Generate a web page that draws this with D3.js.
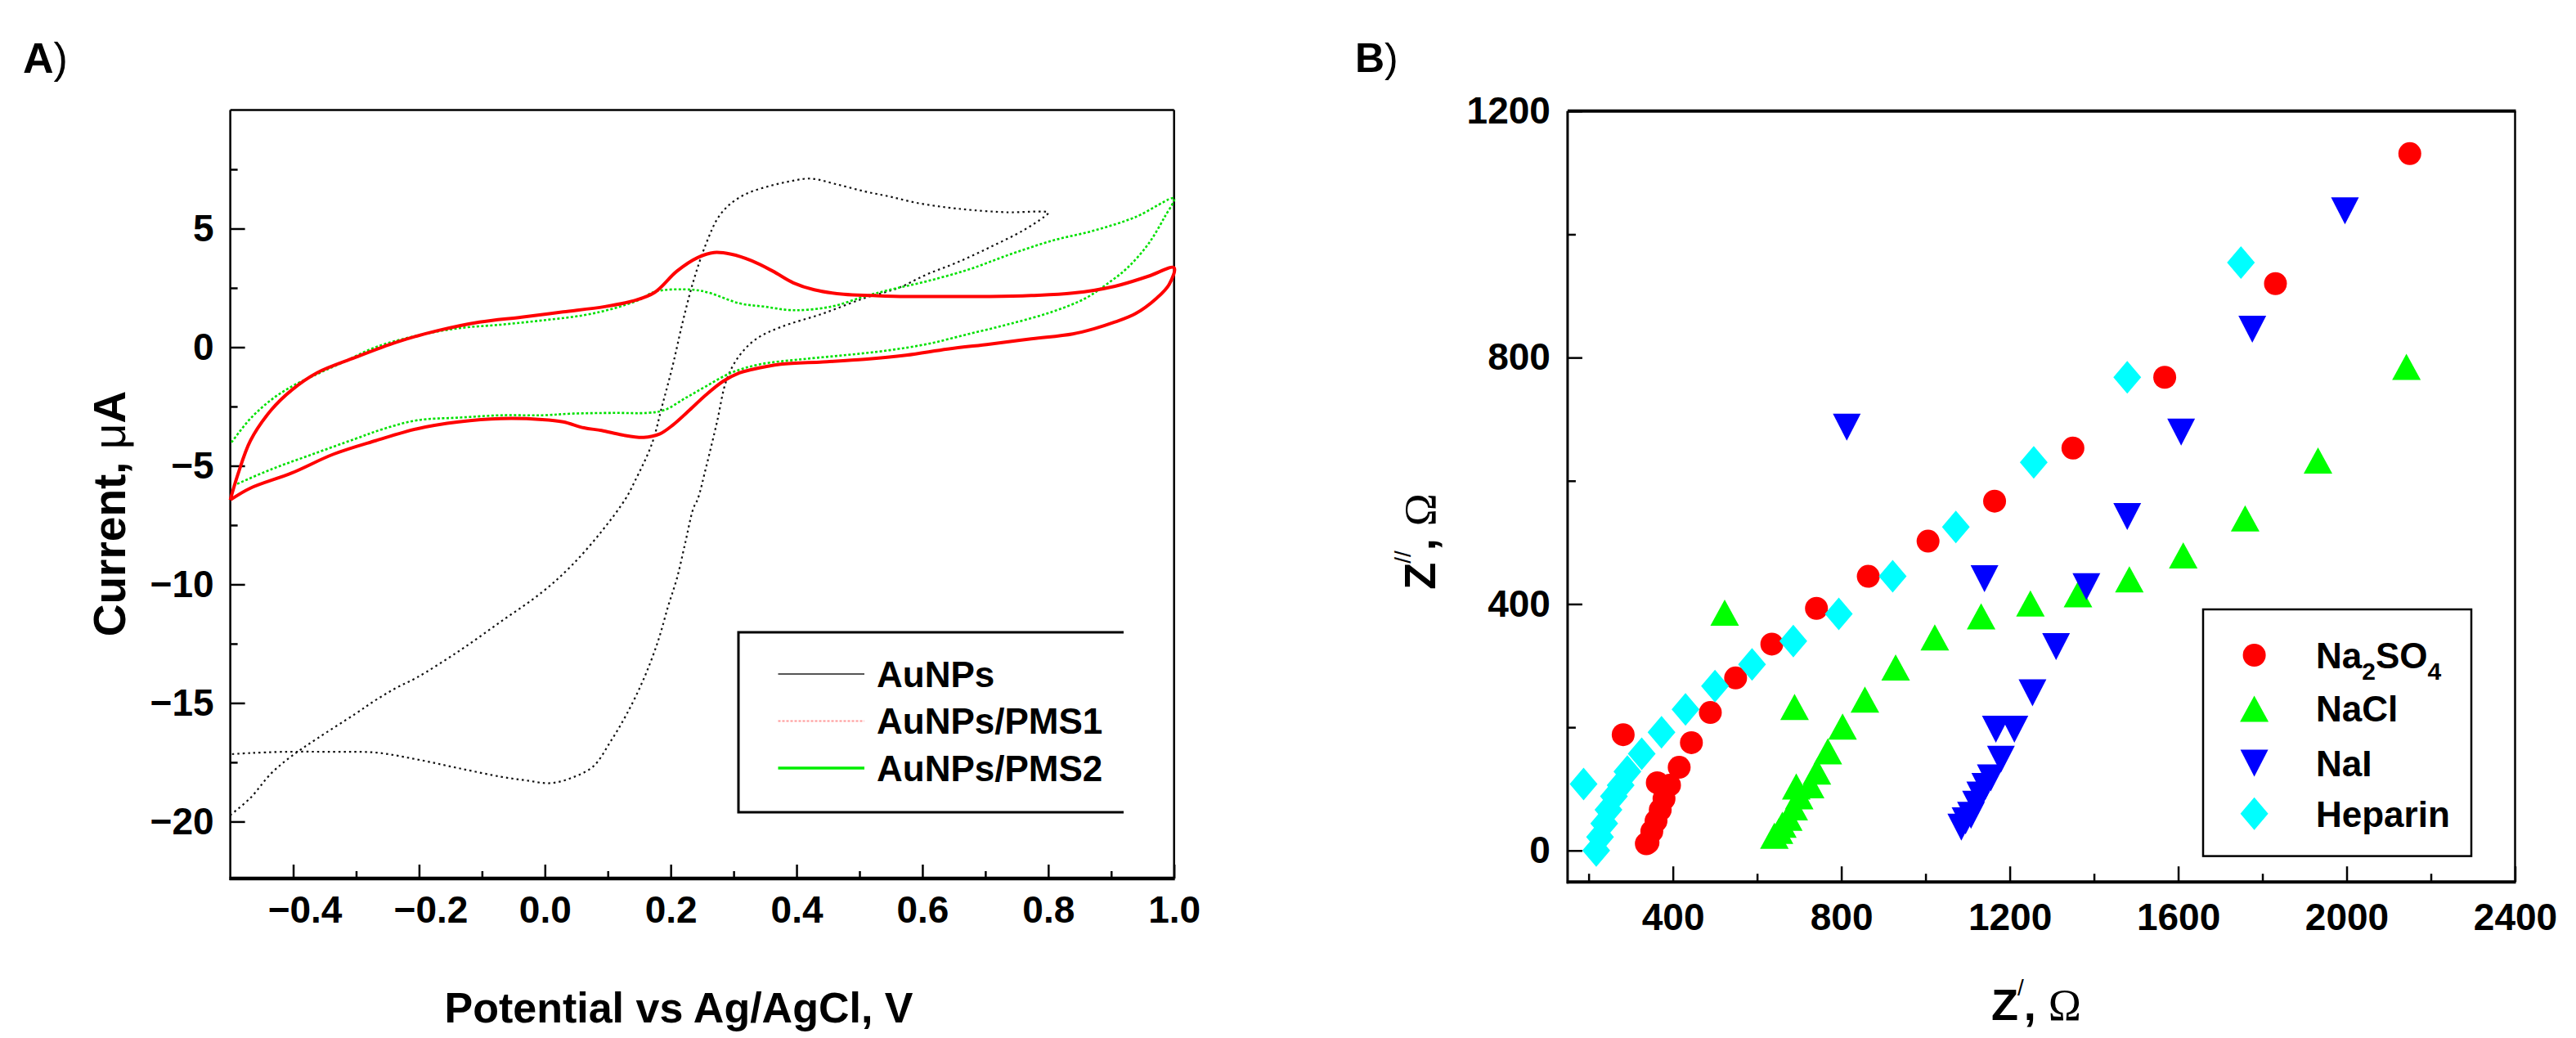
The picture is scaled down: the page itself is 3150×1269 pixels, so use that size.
<!DOCTYPE html>
<html><head><meta charset="utf-8">
<script src="https://cdn.jsdelivr.net/npm/d3@7"></script>
<style>
body{margin:0;background:#fff}
svg{display:block}
text{font-family:"Liberation Sans",Arial,sans-serif}
</style>
</head><body>
<svg id="c" width="3150" height="1269"></svg>
<script>
// ---------- Panel A data (cyclic voltammograms) ----------
const cvPotentialTicks = [-0.4,-0.2,0.0,0.2,0.4,0.6,0.8,1.0];
const cvPotentialMinor = [-0.3,-0.1,0.1,0.3,0.5,0.7,0.9];
const cvCurrentTicks = [-20,-15,-10,-5,0,5];
const cvCurrentMinor = [-17.5,-12.5,-7.5,-2.5,2.5,7.5];
const cvSeriesNames = ["AuNPs","AuNPs/PMS1","AuNPs/PMS2"];

const auNPs = [[-0.5,-19.73],[-0.468,-19.0],[-0.435,-17.97],[-0.402,-17.23],[-0.362,-16.5],[-0.302,-15.47],[-0.269,-14.88],[-0.236,-14.36],[-0.203,-13.92],[-0.137,-12.82],[-0.070,-11.57],[-0.004,-10.32],[0.042,-9.22],[0.090,-7.77],[0.128,-6.4],[0.143,-5.65],[0.170,-4.08],[0.186,-2.51],[0.203,-0.79],[0.219,1.06],[0.236,2.78],[0.256,4.35],[0.276,5.49],[0.296,6.07],[0.322,6.49],[0.355,6.78],[0.389,6.99],[0.422,7.11],[0.462,6.88],[0.508,6.57],[0.548,6.35],[0.594,6.07],[0.640,5.89],[0.680,5.78],[0.733,5.69],[0.800,5.67],
[0.793,5.49],[0.760,4.92],[0.707,4.21],[0.654,3.56],[0.607,3.07],[0.561,2.49],[0.508,2.07],[0.442,1.42],[0.375,0.85],[0.336,0.35],[0.309,-0.36],[0.289,-1.36],[0.273,-3.22],[0.256,-5.08],[0.243,-6.4],[0.236,-6.79],[0.223,-8.26],[0.210,-9.73],[0.196,-10.91],[0.180,-12.38],[0.157,-13.99],[0.130,-15.47],[0.104,-16.64],[0.077,-17.67],[0.044,-18.14],[0.009,-18.38],[-0.031,-18.26],[-0.070,-18.11],[-0.137,-17.75],[-0.203,-17.38],[-0.269,-17.09],[-0.336,-17.06],[-0.415,-17.06],[-0.468,-17.11],[-0.5,-17.16]];

const pms1 = [[-0.5,-6.44],[-0.488,-5.37],[-0.468,-3.94],[-0.435,-2.65],[-0.402,-1.80],[-0.362,-1.08],[-0.302,-0.44],[-0.236,0.21],[-0.170,0.70],[-0.104,1.06],[-0.037,1.27],[0.029,1.49],[0.095,1.71],[0.140,1.95],[0.174,2.30],[0.210,3.21],[0.243,3.78],[0.269,3.99],[0.296,3.92],[0.329,3.64],[0.362,3.21],[0.395,2.71],[0.428,2.42],[0.475,2.23],[0.521,2.18],[0.574,2.14],[0.640,2.14],[0.707,2.14],[0.773,2.18],[0.839,2.28],[0.906,2.57],[0.959,2.99],[1.0,3.35],
[0.992,2.64],[0.972,2.06],[0.939,1.42],[0.906,1.06],[0.873,0.78],[0.839,0.56],[0.773,0.35],[0.707,0.13],[0.640,-0.08],[0.574,-0.34],[0.508,-0.51],[0.442,-0.62],[0.375,-0.72],[0.329,-0.94],[0.309,-1.08],[0.283,-1.44],[0.256,-2.01],[0.230,-2.65],[0.203,-3.29],[0.183,-3.65],[0.157,-3.80],[0.123,-3.70],[0.090,-3.51],[0.062,-3.40],[0.029,-3.15],[-0.004,-3.05],[-0.070,-3.01],[-0.137,-3.15],[-0.203,-3.44],[-0.269,-3.94],[-0.336,-4.51],[-0.402,-5.30],[-0.468,-5.94],[-0.5,-6.44]];

const pms2 = [[-0.498,-4.01],[-0.468,-3.01],[-0.435,-2.22],[-0.402,-1.65],[-0.369,-1.22],[-0.322,-0.65],[-0.269,0.0],[-0.203,0.49],[-0.137,0.80],[-0.070,0.95],[-0.004,1.13],[0.062,1.35],[0.110,1.64],[0.150,2.00],[0.176,2.35],[0.236,2.42],[0.263,2.28],[0.309,1.85],[0.349,1.71],[0.395,1.56],[0.455,1.71],[0.508,2.14],[0.548,2.42],[0.607,2.78],[0.674,3.28],[0.740,3.92],[0.806,4.49],[0.873,4.92],[0.939,5.49],[1.0,6.28],
[0.985,5.49],[0.959,4.35],[0.926,3.35],[0.892,2.64],[0.859,2.06],[0.806,1.49],[0.740,0.99],[0.674,0.56],[0.607,0.13],[0.541,-0.15],[0.475,-0.34],[0.408,-0.51],[0.342,-0.72],[0.296,-1.08],[0.256,-1.65],[0.223,-2.15],[0.190,-2.65],[0.163,-2.77],[0.110,-2.77],[0.044,-2.80],[-0.004,-2.87],[-0.070,-2.87],[-0.137,-2.97],[-0.203,-3.08],[-0.256,-3.44],[-0.302,-3.87],[-0.369,-4.51],[-0.435,-5.15],[-0.498,-5.87]];

// ---------- Panel B data (Nyquist plots) ----------
const zReTicks = [400,800,1200,1600,2000,2400];
const zReMinor = [200,600,1000,1400,1800,2200];
const zImTicks = [0,400,800,1200];
const zImMinor = [200,600,1000];
const eisSeriesNames = ["Na2SO4","NaCl","NaI","Heparin"];

const na2so4 = [[337,11],[341,13],[350,31],[360,48],[370,66],[379,84],[363,110],[392,106],[415,135],[444,175],[282,188],[489,224],[549,280],[635,335],[741,393],[864,445],[1006,502],[1164,567],[1350,653],[1568,768],[1831,920],[2150,1131]];
const nacl = [[641,24],[652,32],[660,42],[674,53],[687,70],[700,88],[693,104],[726,106],[742,128],[768,161],[803,201],[856,245],[929,297],[1022,346],[1132,380],[1249,401],[1362,416],[1484,440],[1612,479],[1759,539],[1932,633],[2142,785],[523,386],[689,233]];
const nai = [[1085,38],[1095,48],[1108,57],[1120,75],[1130,90],[1142,104],[1155,118],[1179,148],[1167,197],[1211,197],[1254,256],[1310,331],[1382,428],[1140,441],[1479,542],[1607,679],[1776,846],[1996,1038],[813,687]];
const heparin = [[218,0],[227,22],[237,44],[247,66],[260,88],[276,106],[292,128],[188,108],[326,157],[373,192],[430,229],[500,267],[588,302],[686,340],[794,384],[922,445],[1072,525],[1257,630],[1479,768],[1749,954]];

// ---------- drawing ----------
const svg = d3.select("#c");
const FONT = "'Liberation Sans', Arial, sans-serif";
const SERIF = "'Liberation Serif', 'Times New Roman', serif";

function styleAxis(g, size){
  g.attr("font-family", FONT).attr("font-size", size).attr("font-weight", "bold");
  g.select(".domain").remove();
  g.selectAll(".tick line").attr("stroke", "#000").attr("stroke-width", 2.5);
  g.selectAll(".tick text").attr("fill", "#000");
}

// ===== Panel A =====
const xA = d3.scaleLinear().domain([-0.5, 1.0]).range([281.6, 1435.7]);
const yA = d3.scaleLinear().domain([-22.4, 10]).range([1074, 134.5]);
const gA = svg.append("g");

const fmt1 = d3.format(".1f");
const axA_x = gA.append("g").attr("transform", `translate(0,${yA.range()[0]})`)
  .call(d3.axisBottom(xA).tickValues(cvPotentialTicks).tickSize(-17).tickSizeOuter(0).tickPadding(21).tickFormat(fmt1));
styleAxis(axA_x, 46);
axA_x.selectAll(".tick text").attr("dx", d => d < 0 ? 14 : 0);
const axA_xm = gA.append("g").attr("transform", `translate(0,${yA.range()[0]})`)
  .call(d3.axisBottom(xA).tickValues(cvPotentialMinor).tickSize(-9).tickSizeOuter(0).tickFormat(""));
styleAxis(axA_xm, 46);

const axA_y = gA.append("g").attr("transform", `translate(${xA.range()[0]},0)`)
  .call(d3.axisLeft(yA).tickValues(cvCurrentTicks).tickSize(-18).tickSizeOuter(0).tickPadding(20).tickFormat(d3.format("d")));
styleAxis(axA_y, 46);
const axA_ym = gA.append("g").attr("transform", `translate(${xA.range()[0]},0)`)
  .call(d3.axisLeft(yA).tickValues(cvCurrentMinor).tickSize(-9).tickSizeOuter(0).tickFormat(""));
styleAxis(axA_ym, 46);

// frame
const [ax0, ax1] = xA.range(), [ay0, ay1] = yA.range();
gA.append("line").attr("x1", ax0).attr("x2", ax1).attr("y1", ay1).attr("y2", ay1).attr("stroke", "#000").attr("stroke-width", 2.5);
gA.append("line").attr("x1", ax1).attr("x2", ax1).attr("y1", ay1).attr("y2", ay0).attr("stroke", "#000").attr("stroke-width", 2.5);
gA.append("line").attr("x1", ax0).attr("x2", ax0).attr("y1", ay1).attr("y2", ay0 + 2).attr("stroke", "#000").attr("stroke-width", 2.5);
gA.append("line").attr("x1", ax0 - 1).attr("x2", ax1 + 1).attr("y1", ay0).attr("y2", ay0).attr("stroke", "#000").attr("stroke-width", 4.5);

// curves
const lineA = d3.line().x(d => xA(d[0])).y(d => yA(d[1])).curve(d3.curveCatmullRom.alpha(0.5));
gA.append("path").datum(auNPs).attr("d", lineA).attr("fill", "none")
  .attr("stroke", "#111").attr("stroke-width", 2.2).attr("stroke-dasharray", "2.5 4");
gA.append("path").datum(pms2).attr("d", lineA).attr("fill", "none")
  .attr("stroke", "#00e000").attr("stroke-width", 2.6).attr("stroke-dasharray", "3 2.5");
gA.append("path").datum(pms1).attr("d", lineA).attr("fill", "none")
  .attr("stroke", "#ff0000").attr("stroke-width", 4);

// legend A (open on the right)
gA.append("path").attr("d", "M1374,773 H903 V993 H1374").attr("fill", "none").attr("stroke", "#000").attr("stroke-width", 3);
const legA = [
  {name: cvSeriesNames[0], y: 824, stroke: "#555", w: 2, dash: null},
  {name: cvSeriesNames[1], y: 881.6, stroke: "#ff9a9a", w: 2, dash: "3 2"},
  {name: cvSeriesNames[2], y: 939, stroke: "#00ee00", w: 3.5, dash: null}
];
legA.forEach(e => {
  gA.append("line").attr("x1", 951.5).attr("x2", 1057).attr("y1", e.y).attr("y2", e.y)
    .attr("stroke", e.stroke).attr("stroke-width", e.w).attr("stroke-dasharray", e.dash);
  gA.append("text").attr("x", 1072).attr("y", e.y).attr("dy", "0.36em")
    .attr("font-size", 44).attr("font-weight", "bold").text(e.name);
});

// titles A
gA.append("text").attr("x", 830).attr("y", 1250).attr("text-anchor", "middle")
  .attr("font-size", 52).attr("font-weight", "bold").text("Potential vs Ag/AgCl, V");
const ytA = gA.append("text").attr("transform", "translate(153,628) rotate(-90)").attr("text-anchor", "middle")
  .attr("font-size", 55).attr("font-weight", "bold");
ytA.append("tspan").text("Current, ");
ytA.append("tspan").attr("font-weight", "normal").text("μ");
ytA.append("tspan").text("A");
const labA = gA.append("text").attr("x", 28).attr("y", 89).attr("font-size", 52);
labA.append("tspan").attr("font-weight", "bold").text("A");
labA.append("tspan").attr("font-weight", "normal").text(")");

// ===== Panel B =====
const xB = d3.scaleLinear().domain([150, 2400]).range([1916.9, 3075.5]);
const yB = d3.scaleLinear().domain([-51, 1200]).range([1078.2, 135.8]);
const gB = svg.append("g");

const axB_x = gB.append("g").attr("transform", `translate(0,${yB.range()[0]})`)
  .call(d3.axisBottom(xB).tickValues(zReTicks).tickSize(-19).tickSizeOuter(0).tickPadding(26).tickFormat(d3.format("d")));
styleAxis(axB_x, 46);
const axB_xm = gB.append("g").attr("transform", `translate(0,${yB.range()[0]})`)
  .call(d3.axisBottom(xB).tickValues(zReMinor).tickSize(-10).tickSizeOuter(0).tickFormat(""));
styleAxis(axB_xm, 46);
const axB_y = gB.append("g").attr("transform", `translate(${xB.range()[0]},0)`)
  .call(d3.axisLeft(yB).tickValues(zImTicks).tickSize(-18).tickSizeOuter(0).tickPadding(21).tickFormat(d3.format("d")));
styleAxis(axB_y, 46);
const axB_ym = gB.append("g").attr("transform", `translate(${xB.range()[0]},0)`)
  .call(d3.axisLeft(yB).tickValues(zImMinor).tickSize(-10).tickSizeOuter(0).tickFormat(""));
styleAxis(axB_ym, 46);

const [bx0, bx1] = xB.range(), [by0, by1] = yB.range();
gB.append("line").attr("x1", bx0).attr("x2", bx1 + 1).attr("y1", by1).attr("y2", by1).attr("stroke", "#000").attr("stroke-width", 4);
gB.append("line").attr("x1", bx1).attr("x2", bx1).attr("y1", by1).attr("y2", by0).attr("stroke", "#000").attr("stroke-width", 2.5);
gB.append("line").attr("x1", bx0).attr("x2", bx0).attr("y1", by1).attr("y2", by0 + 2).attr("stroke", "#000").attr("stroke-width", 3);
gB.append("line").attr("x1", bx0 - 1).attr("x2", bx1 + 1).attr("y1", by0).attr("y2", by0).attr("stroke", "#000").attr("stroke-width", 4);

// marker shapes
const shapes = {
  circle: "M14,0A14,14 0 1,1 -14,0A14,14 0 1,1 14,0Z",
  up: "M0,-16L17.5,16L-17.5,16Z",
  down: "M-17,-16.5L17,-16.5L0,16.5Z",
  diamond: "M0,-20L17,0L0,20L-17,0Z"
};
const seriesB = [
  {name: eisSeriesNames[0], data: na2so4, shape: "circle", color: "#ff0000"},
  {name: eisSeriesNames[1], data: nacl, shape: "up", color: "#00ff00"},
  {name: eisSeriesNames[2], data: nai, shape: "down", color: "#0000ff"},
  {name: eisSeriesNames[3], data: heparin, shape: "diamond", color: "#00ffff"}
];
seriesB.forEach(s => {
  gB.append("g").selectAll("path").data(s.data).join("path")
    .attr("d", shapes[s.shape]).attr("fill", s.color)
    .attr("transform", d => `translate(${xB(d[0])},${yB(d[1])})`);
});

// legend B
gB.append("rect").attr("x", 2694).attr("y", 745).attr("width", 328).attr("height", 301.6)
  .attr("fill", "#fff").attr("stroke", "#000").attr("stroke-width", 2.5);
const legRows = [801, 866.4, 932.9, 994.7];
seriesB.forEach((s, i) => {
  gB.append("path").attr("d", shapes[s.shape]).attr("fill", s.color)
    .attr("transform", `translate(2756.6,${legRows[i]})`);
  const t = gB.append("text").attr("x", 2832).attr("y", legRows[i]).attr("dy", "0.36em")
    .attr("font-size", 44).attr("font-weight", "bold");
  if (i === 0) {
    t.append("tspan").text("Na");
    t.append("tspan").attr("font-size", 30).attr("dy", 14).text("2");
    t.append("tspan").attr("dy", -14).text("SO");
    t.append("tspan").attr("font-size", 30).attr("dy", 14).text("4");
  } else {
    t.text(s.name);
  }
});

// titles B
const xtB = gB.append("text").attr("x", 2490).attr("y", 1247).attr("text-anchor", "middle").attr("font-size", 54);
xtB.append("tspan").attr("font-weight", "bold").text("Z");
xtB.append("tspan").attr("font-size", 28).attr("dx", -1).attr("dy", -30).text("/");
xtB.append("tspan").attr("font-weight", "bold").attr("dy", 30).text(", ");
xtB.append("tspan").attr("font-family", SERIF).text("Ω");

const ytB = gB.append("text").attr("transform", "translate(1755,662) rotate(-90)").attr("text-anchor", "middle").attr("font-size", 54);
ytB.append("tspan").attr("font-weight", "bold").text("Z");
ytB.append("tspan").attr("font-size", 28).attr("dx", -1).attr("dy", -30).text("//");
ytB.append("tspan").attr("font-weight", "bold").attr("dy", 30).text(", ");
ytB.append("tspan").attr("font-family", SERIF).text("Ω");

const labB = gB.append("text").attr("x", 1657).attr("y", 88).attr("font-size", 50);
labB.append("tspan").attr("font-weight", "bold").text("B");
labB.append("tspan").attr("font-weight", "normal").text(")");
</script>
</body></html>
